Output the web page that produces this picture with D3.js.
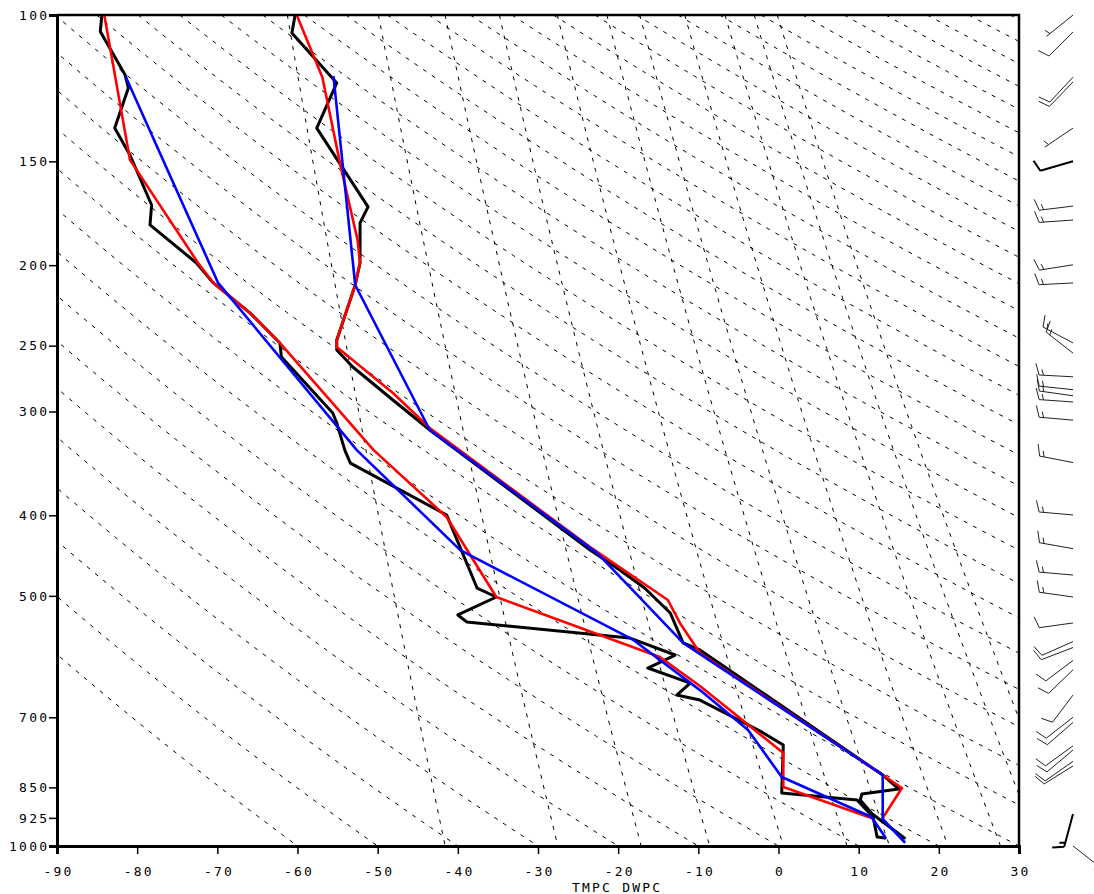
<!DOCTYPE html>
<html>
<head>
<meta charset="utf-8">
<script src="https://cdn.jsdelivr.net/npm/d3@7"></script>
<style>
  html, body { margin: 0; padding: 0; background: #fff; }
  svg { display: block; }
  .lbl { font-family: "DejaVu Sans Mono", monospace; font-size: 13px; letter-spacing: 2.2px; fill: #000; }
</style>
</head>
<body>
<svg id="chart" width="1094" height="894"></svg>
<script>
// Profiles as [pressure (hPa), value (°C)]
const obsTmpc = [[100,-60.3],[105.1,-60.7],[120.7,-55.1],[136.8,-57.6],[170.2,-51.2],[177.9,-52.2],[193.4,-52.2],[198.8,-52.2],[211.3,-52.8],[246.1,-55.1],[253,-55.1],[265.2,-53.1],[290.6,-48.1],[315.8,-43.5],[440.5,-23.5],[465.5,-19.8],[489.3,-16.7],[524.3,-13.5],[569.7,-11.9],[580.9,-9.8],[821.4,13.0],[853.9,15.0],[865.8,10.4],[880.3,10.2],[915.1,11.7],[978.1,15.7]];
const obsDwpc = [[100,-84.4],[104.7,-84.6],[118.1,-81.5],[122.4,-81.1],[136.8,-82.8],[147.4,-80.9],[169.3,-78.2],[178.9,-78.4],[198.8,-72.6],[210.1,-70.5],[228.4,-65.9],[248.1,-62.2],[258,-62.0],[301.3,-55.6],[309.7,-55.1],[333.9,-54.1],[346.1,-53.4],[399.6,-41.4],[489.3,-37.6],[501.6,-35.2],[527.2,-40.0],[537.5,-38.9],[561.9,-18.6],[589.1,-12.9],[610.7,-16.3],[636.7,-11.0],[658.2,-12.7],[667.4,-9.8],[727.1,-2.3],[755.9,0.6],[863.4,0.4],[880.3,9.8],[922.8,11.8],[975.4,12.3],[978.1,13.3]];
const redTmpc = [[100,-60.1],[118.8,-56.9],[152.4,-54.6],[186.6,-52.5],[198.8,-52.2],[211.3,-52.8],[246.1,-55.1],[250.9,-55.1],[285,-48.1],[314.1,-43.5],[436.8,-23.5],[489.3,-16.0],[505.8,-13.8],[539,-12.3],[585.8,-9.8],[821.4,13.0],[851.5,15.4],[925.3,13.0]];
const redDwpc = [[100,-84.1],[149.4,-80.9],[198.8,-72.4],[210.1,-70.5],[228.4,-65.9],[248.1,-62.2],[333.9,-50.5],[401.9,-41.4],[501.6,-35.2],[592.4,-14.8],[642,-9.8],[772.8,0.6],[849.2,0.6],[925.3,11.6]];
const blueTmpc = [[118.8,-55.5],[211.3,-52.8],[315.8,-43.5],[444.2,-22.6],[569.7,-11.9],[821.4,13.0],[927.9,13.0],[989,15.7]];
const blueDwpc = [[118.8,-81.4],[210.1,-69.9],[333.9,-52.6],[440.5,-39.7],[565,-18.1],[649.2,-9.8],[725.1,-3.8],[826,0.4],[922.8,11.6],[975.4,13.3]];

// Winds: pressure (hPa), direction (deg), speed (kt)
const windPres = [100,104.8,118.8,120.4,136.8,169.8,176.5,199.8,210.1,248.1,255.2,272.5,282.4,287.2,292.2,307.3,345.6,399.6,438.7,472,501.6,539,567.5,577,598,613.7,658.2,700,710,757.6,766.5,791,801,1000];
const windDrct = [231,225,223,224,236,263,266,261,267,298,308,273,276,278,274,275,281,275,280,275,278,262,246,249,233,226,217,232,229,234,230,235,238,128];
const windSknt = [5,10,10,10,5,15,15,15,15,15,15,15,15,15,15,15,15,15,15,15,15,10,10,10,10,10,10,10,10,10,10,10,10,5];
// Observed winds
const obsWindPres = [150,915];
const obsWindDrct = [254,195];
const obsWindSknt = [10,15];

// Axis ticks and background line values
const presTicks = [100,150,200,250,300,400,500,700,850,925,1000];
const tempTicks = [-90,-80,-70,-60,-50,-40,-30,-20,-10,0,10,20,30];
const thetaLines = [-60,-50,-40,-30,-20,-10,0,10,20,30,40,50,60,70,80,90,100,110,120,130,140,150,160,170,180,190,200,210,220,230,240,250,260,270,280,290,300,310];
const mixrLines = [0.1,0.4,1,2,4,7,10,16,24,32,40];

const svg = d3.select("#chart");
const L = 57, R = 1019, T = 15, B = 846;
const x = d3.scaleLinear().domain([-90, 30]).range([L, R]);
const y = d3.scaleLog().domain([100, 1000]).range([T, B]);

svg.append("defs").append("clipPath").attr("id", "plotClip")
  .append("rect").attr("x", L).attr("y", T).attr("width", R - L).attr("height", B - T);

const bg = svg.append("g").attr("clip-path", "url(#plotClip)")
  .attr("fill", "none").attr("stroke", "#000").attr("stroke-width", 1)
  .attr("stroke-dasharray", "4,6.5");

const presSamples = d3.range(0, 61).map(i => 100 * Math.pow(10.5, i / 60));
const bgLine = d3.line().x(d => x(d[1])).y(d => y(d[0]));

// Dry adiabats
thetaLines.forEach(th => {
  const pts = presSamples.map(p => [p, (th + 273.15) * Math.pow(p / 1000, 0.2857) - 273.15]);
  bg.append("path").attr("d", bgLine(pts));
});

// Mixing ratio lines (g/kg)
mixrLines.forEach(w => {
  const pts = presSamples.map(p => {
    const e = w * p / (622 + w);
    const a = Math.log(e / 6.112);
    return [p, 243.5 * a / (17.67 - a)];
  });
  bg.append("path").attr("d", bgLine(pts));
});

// Profiles
const prof = d3.line().x(d => x(d[1])).y(d => y(d[0]));
const series = [
  { data: obsTmpc, color: "#000", w: 3 },
  { data: obsDwpc, color: "#000", w: 3 },
  { data: redTmpc, color: "#ff0000", w: 2.6 },
  { data: redDwpc, color: "#ff0000", w: 2.6 },
  { data: blueTmpc, color: "#0000ff", w: 2.6 },
  { data: blueDwpc, color: "#0000ff", w: 2.6 }
];
const gp = svg.append("g").attr("clip-path", "url(#plotClip)");
series.forEach(s => {
  gp.append("path").attr("d", prof(s.data)).attr("fill", "none")
    .attr("stroke", s.color).attr("stroke-width", s.w)
    .attr("stroke-linejoin", "round").attr("stroke-linecap", "round");
});

// Axes
const yAxis = d3.axisLeft(y).tickValues(presTicks).tickFormat(d => String(d)).tickSize(8).tickPadding(2);
const xAxis = d3.axisBottom(x).tickValues(tempTicks).tickFormat(d => String(d)).tickSize(8).tickPadding(13);
const gy = svg.append("g").attr("transform", `translate(${L},0)`).call(yAxis);
const gx = svg.append("g").attr("transform", `translate(0,${B})`).call(xAxis);
[gy, gx].forEach(g => {
  g.select(".domain").attr("stroke", "#000").attr("stroke-width", 3);
  g.selectAll(".tick line").attr("stroke", "#000").attr("stroke-width", 1.5);
  g.selectAll(".tick text").attr("class", "lbl").attr("font-family", null).attr("font-size", null);
});
gy.selectAll(".tick text").attr("dx", "2.2px");
gx.selectAll(".tick text").attr("dx", "1.1px");

// Frame top and right
svg.append("path").attr("d", `M${L},${T}H${R}V${B}`).attr("fill", "none")
  .attr("stroke", "#000").attr("stroke-width", 2.5);

svg.append("text").attr("class", "lbl").attr("x", 572).attr("y", 892).text("TMPC DWPC");

// Wind barbs
const barbX = 1073, staffLen = 34, featherLen = 12, featherGap = 4.5, featherAng = 72 * Math.PI / 180;
function barbPath(px, py, drct, spd) {
  const r = drct * Math.PI / 180;
  const sx = Math.sin(r), sy = -Math.cos(r);
  const nx = -sy, ny = sx;
  const p = d3.path();
  const tx = px + staffLen * sx, ty = py + staffLen * sy;
  p.moveTo(px, py); p.lineTo(tx, ty);
  let s = Math.round(spd / 5) * 5;
  let pos = 0;
  const fx = Math.cos(featherAng) * sx + Math.sin(featherAng) * nx;
  const fy = Math.cos(featherAng) * sy + Math.sin(featherAng) * ny;
  while (s >= 50) {
    const bx = tx - pos * sx, by = ty - pos * sy;
    p.moveTo(bx, by);
    p.lineTo(bx + featherLen * fx, by + featherLen * fy);
    p.lineTo(bx - 2 * featherGap * sx, by - 2 * featherGap * sy);
    pos += 3 * featherGap; s -= 50;
  }
  while (s >= 10) {
    const bx = tx - pos * sx, by = ty - pos * sy;
    p.moveTo(bx, by); p.lineTo(bx + featherLen * fx, by + featherLen * fy);
    pos += featherGap; s -= 10;
  }
  if (s >= 5) {
    if (pos === 0) pos = featherGap;
    const bx = tx - pos * sx, by = ty - pos * sy;
    p.moveTo(bx, by); p.lineTo(bx + featherLen * 0.5 * fx, by + featherLen * 0.5 * fy);
  }
  return p.toString();
}
const gw = svg.append("g").attr("fill", "none").attr("stroke", "#222");
windPres.forEach((p, i) => {
  gw.append("path").attr("d", barbPath(barbX, y(p), windDrct[i], windSknt[i])).attr("stroke-width", 1);
});
obsWindPres.forEach((p, i) => {
  gw.append("path").attr("d", barbPath(barbX, y(p), obsWindDrct[i], obsWindSknt[i]))
    .attr("stroke", "#000").attr("stroke-width", 2);
});
</script>
</body>
</html>
